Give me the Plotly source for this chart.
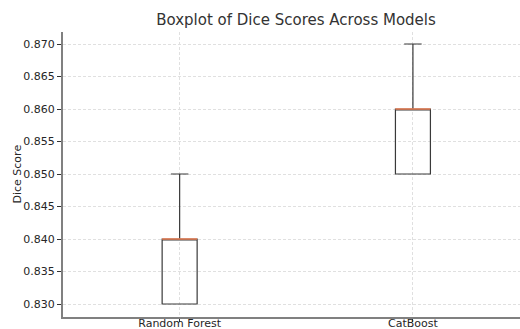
import plotly.graph_objects as go

models = ["Random Forest", "CatBoost"]
positions = [1, 2]
q1 = [0.830, 0.850]
median = [0.840, 0.860]
q3 = [0.840, 0.860]
lower = [0.830, 0.850]
upper = [0.850, 0.870]
yticks = [0.830, 0.835, 0.840, 0.845, 0.850, 0.855, 0.860, 0.865, 0.870]

box_w = 0.15
font = "DejaVu Sans"
txt = "#262626"

fig = go.Figure()
for i, m in enumerate(models):
    fig.add_trace(go.Box(
        x=[positions[i]], q1=[q1[i]], median=[median[i]], q3=[q3[i]],
        lowerfence=[lower[i]], upperfence=[upper[i]],
        width=box_w, whiskerwidth=0.5,
        line=dict(color="#3a3a3a", width=1.2),
        fillcolor="rgba(0,0,0,0)", name=m, showlegend=False,
        boxpoints=False,
    ))
    fig.add_trace(go.Scatter(
        x=[positions[i] - box_w / 2, positions[i] + box_w / 2],
        y=[median[i], median[i]], mode="lines",
        line=dict(color="#f0845a", width=1.6), showlegend=False,
        hoverinfo="skip",
    ))

fig.update_layout(
    width=520, height=329,
    margin=dict(l=63, r=0, t=32, b=12),
    paper_bgcolor="white", plot_bgcolor="white",
    font=dict(family=font, size=11, color=txt),
    title=dict(text="Boxplot of Dice Scores Across Models",
               x=296 / 520, xref="container", xanchor="center",
               y=1 - 20 / 329, yref="container", yanchor="middle",
               font=dict(size=15, color="#333333", family=font)),
    annotations=[dict(text="Dice Score", textangle=-90,
                      xref="paper", yref="paper", x=-(63 - 17) / 457, y=0.5,
                      xanchor="center", yanchor="middle", showarrow=False,
                      font=dict(size=11, color=txt, family=font))],
)
fig.update_xaxes(
    range=[0.5, 2.459], tickvals=positions, ticktext=models,
    showgrid=True, gridcolor="#e0e0e0", griddash="3px,2px", gridwidth=1,
    showline=True, linecolor="#808080", linewidth=2,
    ticks="outside", ticklen=3, tickcolor="#333333", zeroline=False,
    ticklabelstandoff=-8,
    automargin=False,
)
fig.update_yaxes(
    range=[0.828, 0.87185], tickvals=yticks, tickformat=".3f",
    showgrid=True, gridcolor="#e0e0e0", griddash="3px,2px", gridwidth=1,
    showline=True, linecolor="#808080", linewidth=2,
    ticks="outside", ticklen=4, tickcolor="#333333", zeroline=False,
    automargin=False,
)

fig.write_html("out.html", config={"displayModeBar": False},
               post_script="document.body.style.margin='0';document.body.style.overflow='hidden';")
